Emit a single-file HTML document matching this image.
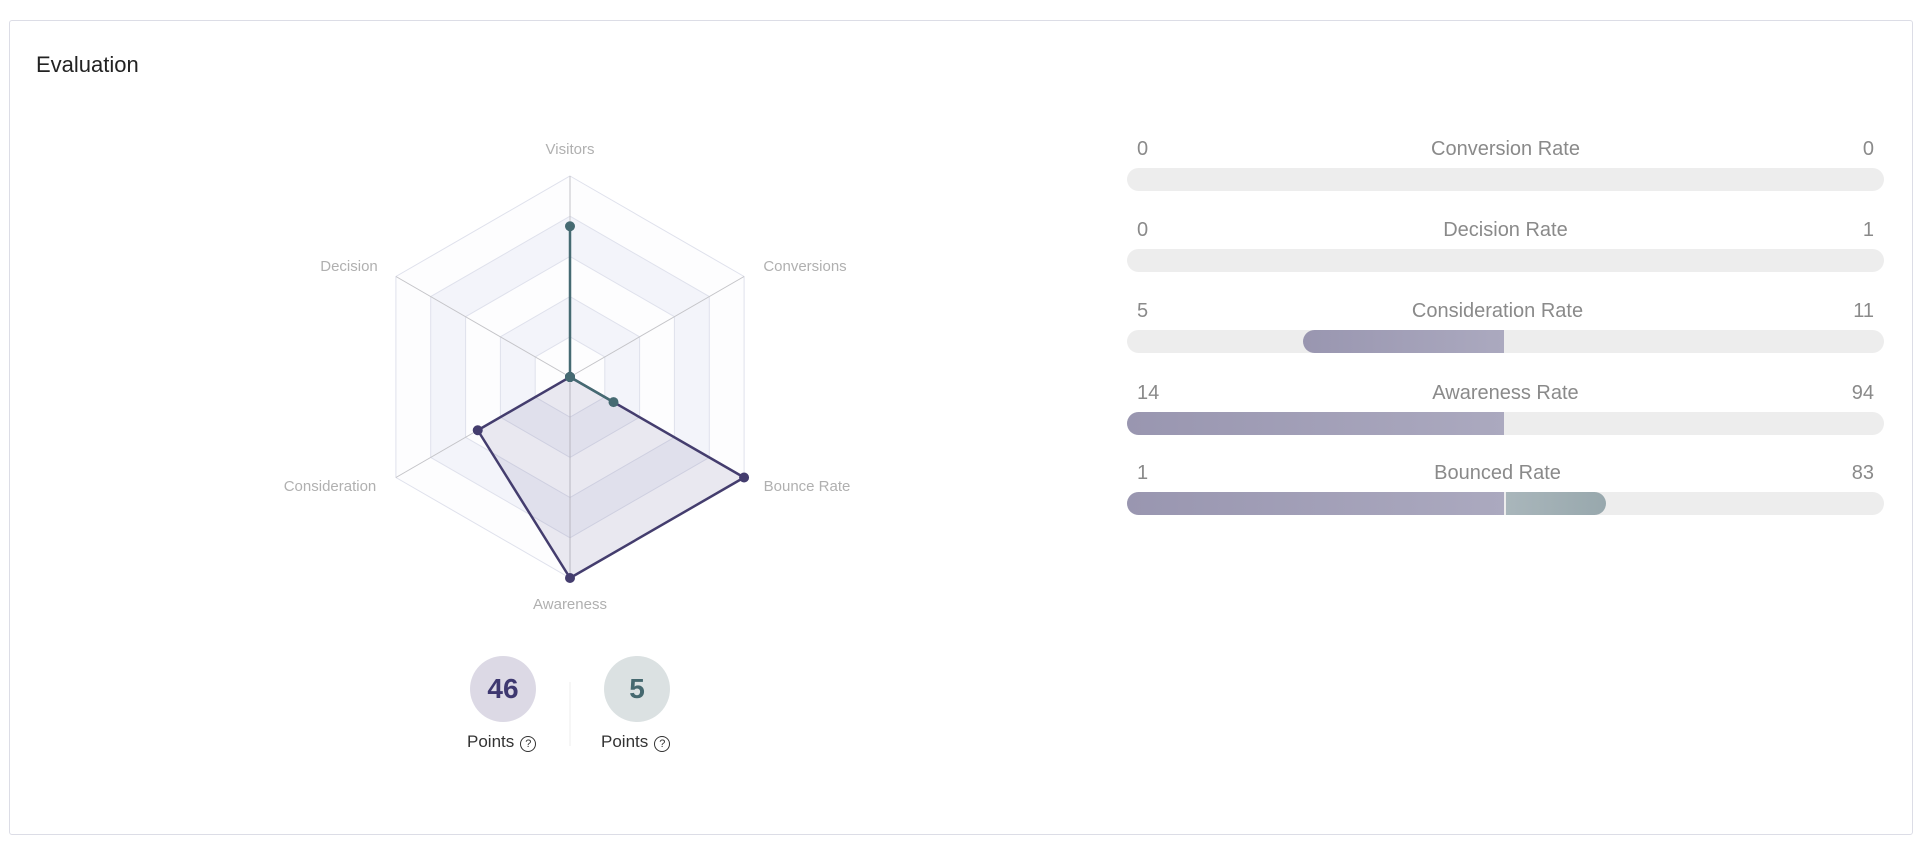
<!DOCTYPE html>
<html><head><meta charset="utf-8"><style>
body{margin:0;width:1926px;height:854px;background:#fff;font-family:"Liberation Sans",sans-serif;position:relative;overflow:hidden}
.card{position:absolute;left:9px;top:20px;width:1902px;height:813px;border:1px solid #dcdde6;border-radius:3px}
.title{position:absolute;left:36px;top:52px;font-size:22px;color:#222}
.row{position:absolute;left:1127px;width:757px}
.lab{position:absolute;top:0;font-size:20px;color:#8a8a8a;line-height:24px}
.bar{position:absolute;left:0;top:31px;width:757px;height:23px;border-radius:12px;background:#ededed;overflow:hidden}
.f{position:absolute;top:0;height:23px}
.pu{background:linear-gradient(90deg,#9996b0,#aba9bf)}
.te{background:linear-gradient(90deg,#a9b6bb,#98a8ad)}
.circ{position:absolute;width:66px;height:66px;border-radius:50%;text-align:center;line-height:66px;font-size:28px;font-weight:bold}
.pts{position:absolute;font-size:17px;color:#333;top:732px}
.q{display:inline-block;width:14px;height:14px;border:1.3px solid #333;border-radius:50%;font-size:11px;line-height:14px;text-align:center;vertical-align:0px;margin-left:6px}
</style></head><body>
<div class="card"></div>
<div class="title">Evaluation</div>
<svg width="1926" height="854" style="position:absolute;left:0;top:0">
<g font-family="Liberation Sans" font-size="15" fill="#b0b0b0" text-anchor="middle">
<text x="570" y="154">Visitors</text>
<text x="805" y="271">Conversions</text>
<text x="807" y="491">Bounce Rate</text>
<text x="570" y="609">Awareness</text>
<text x="330" y="491">Consideration</text>
<text x="349" y="271">Decision</text>
</g>
<g id="rings"></g>
<script>
var cx=570,cy=377,R=201,g=document.getElementById('rings'),ns='http://www.w3.org/2000/svg';
function pts(r){var a=[];for(var i=0;i<6;i++){var t=-Math.PI/2+i*Math.PI/3;a.push((cx+r*Math.cos(t)).toFixed(1)+','+(cy+r*Math.sin(t)).toFixed(1));}return a.join(' ');}
for(var k=5;k>=1;k--){var p=document.createElementNS(ns,'polygon');p.setAttribute('points',pts(R*k/5));p.setAttribute('fill',k%2==0?'#f3f4fa':'#fdfdfe');p.setAttribute('stroke','#dfe1ec');p.setAttribute('stroke-width','1');g.appendChild(p);}
for(var i=0;i<6;i++){var t=-Math.PI/2+i*Math.PI/3,l=document.createElementNS(ns,'line');l.setAttribute('x1',cx);l.setAttribute('y1',cy);l.setAttribute('x2',cx+R*Math.cos(t));l.setAttribute('y2',cy+R*Math.sin(t));l.setAttribute('stroke','#c4c4c8');g.appendChild(l);}
function ser(v,col,fill,path){var a=[];for(var i=0;i<6;i++){var t=-Math.PI/2+i*Math.PI/3;a.push([cx+R*v[i]*Math.cos(t),cy+R*v[i]*Math.sin(t)]);}
var p=document.createElementNS(ns,path?'polyline':'polygon');var pp=path?path.map(function(q){return q.join(',')}).join(' '):a.map(function(q){return q.join(',')}).join(' ');p.setAttribute('points',pp);p.setAttribute('fill',fill);p.setAttribute('stroke',col);p.setAttribute('stroke-width','2.5');p.setAttribute('stroke-linejoin','round');g.appendChild(p);
a.forEach(function(q){var c=document.createElementNS(ns,'circle');c.setAttribute('cx',q[0]);c.setAttribute('cy',q[1]);c.setAttribute('r',5);c.setAttribute('fill',col);g.appendChild(c);});return a;}
ser([0,0,1,1,0.53,0],'#443d6e','rgba(90,80,140,0.12)');
var tv=0.75*R, tc=0.25*R;
ser([0.75,0,0.25,0,0,0],'#456a72','none',[[cx,cy-tv],[cx,cy],[cx+tc*0.866,cy+tc*0.5]]);
</script>
<line x1="570" y1="682" x2="570" y2="746" stroke="#eeeeee"/>
</svg>
<div class="circ" style="left:470px;top:656px;background:#dcd9e5;color:#3e3870">46</div>
<div class="circ" style="left:604px;top:656px;background:#dbe1e2;color:#45686f">5</div>
<div class="pts" style="left:467px">Points<span class="q">?</span></div>
<div class="pts" style="left:601px">Points<span class="q">?</span></div>

<div class="row" style="top:137px"><span class="lab" style="left:10px">0</span><span class="lab" style="left:0;width:757px;text-align:center">Conversion Rate</span><span class="lab" style="right:10px">0</span><div class="bar"></div></div>
<div class="row" style="top:218px"><span class="lab" style="left:10px">0</span><span class="lab" style="left:0;width:757px;text-align:center">Decision Rate</span><span class="lab" style="right:10px">1</span><div class="bar"></div></div>
<div class="row" style="top:299px"><span class="lab" style="left:10px">5</span><span class="lab" style="left:-8px;width:757px;text-align:center">Consideration Rate</span><span class="lab" style="right:10px">11</span><div class="bar"><div class="f pu" style="left:176px;width:201px;border-radius:12px 0 0 12px"></div></div></div>
<div class="row" style="top:381px"><span class="lab" style="left:10px">14</span><span class="lab" style="left:0;width:757px;text-align:center">Awareness Rate</span><span class="lab" style="right:10px">94</span><div class="bar"><div class="f pu" style="left:0;width:377px"></div></div></div>
<div class="row" style="top:461px"><span class="lab" style="left:10px">1</span><span class="lab" style="left:-8px;width:757px;text-align:center">Bounced Rate</span><span class="lab" style="right:10px">83</span><div class="bar"><div class="f pu" style="left:0;width:377px"></div><div class="f te" style="left:379px;width:100px;border-radius:0 12px 12px 0"></div></div></div>
</body></html>
